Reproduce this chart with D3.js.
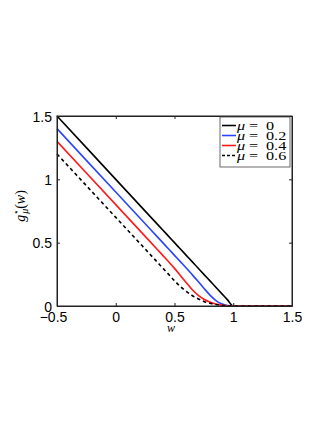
<!DOCTYPE html>
<html>
<head>
<meta charset="utf-8">
<script src="https://cdn.jsdelivr.net/npm/d3@7"></script>
<style>
  body { margin: 0; background: #fff; }
  svg { display: block; }
  .tick text { font-family: "Liberation Sans", Arial, sans-serif; font-size: 14px; fill: #000; }
  .math { font-family: "Liberation Serif", "DejaVu Serif", serif; fill: #000; }
</style>
</head>
<body>
<svg id="chart" width="332" height="430"></svg>
<script>
// w grid and the four curves g*_mu(w)
const wVals  = [-0.5, 0, 0.3, 0.4, 0.45, 0.5, 0.55, 0.6, 0.65, 0.7, 0.75, 0.8, 0.85, 0.9, 0.95, 1, 1.5];
const mu0    = [1.5, 1, 0.7, 0.6, 0.55, 0.5, 0.45, 0.4, 0.35, 0.3, 0.25, 0.2, 0.15, 0.1, 0.05, 0, 0];
const mu02   = [1.4, 0.9, 0.6, 0.5, 0.45, 0.4, 0.35, 0.3, 0.248, 0.195, 0.14, 0.088, 0.045, 0.017, 0.003, 0, 0];
const mu04   = [1.3, 0.8, 0.5, 0.4, 0.35, 0.297, 0.241, 0.184, 0.13, 0.085, 0.053, 0.031, 0.016, 0.007, 0.002, 0, 0];
const mu06   = [1.2, 0.7, 0.4, 0.3, 0.25, 0.2, 0.153, 0.115, 0.083, 0.057, 0.036, 0.022, 0.012, 0.005, 0.001, 0, 0];
const seriesLabels = ['0', '0.2', '0.4', '0.6'];
const xTicks = [-0.5, 0, 0.5, 1, 1.5];
const yTicks = [0, 0.5, 1, 1.5];

const plotL = 57, plotR = 292, plotT = 116, plotB = 306;

const svg = d3.select('#chart');

const x = d3.scaleLinear().domain([-0.5, 1.5]).range([plotL, plotR]);
const y = d3.scaleLinear().domain([0, 1.5]).range([plotB, plotT]);

const series = [
  { label: seriesLabels[0], values: mu0,  color: '#000000', dash: null },
  { label: seriesLabels[1], values: mu02, color: '#2b45ff', dash: null },
  { label: seriesLabels[2], values: mu04, color: '#ff1a1a', dash: null },
  { label: seriesLabels[3], values: mu06, color: '#000000', dash: '3.5,3' }
];

// plot background
svg.append('rect')
    .attr('x', plotL).attr('y', plotT)
    .attr('width', plotR - plotL).attr('height', plotB - plotT)
    .attr('fill', '#fff');

const line = d3.line()
    .x(d => x(d[0]))
    .y(d => y(d[1]))
    .curve(d3.curveMonotoneX);

svg.selectAll('path.curve')
    .data(series)
    .enter().append('path')
    .attr('class', 'curve')
    .attr('fill', 'none')
    .attr('stroke', d => d.color)
    .attr('stroke-width', 1.6)
    .attr('stroke-dasharray', d => d.dash)
    .attr('d', d => line(wVals.map((w, i) => [w, d.values[i]])));

// axes (box style, ticks inside)
const xAxis = d3.axisBottom(x).tickValues(xTicks).tickSizeInner(-3).tickSizeOuter(0).tickPadding(4)
    .tickFormat(d => d < 0 ? '\u2212' + Math.abs(d) : d);
const yAxis = d3.axisLeft(y).tickValues(yTicks).tickSizeInner(-3).tickSizeOuter(0).tickPadding(5)
    .tickFormat(d => d);

const gx = svg.append('g').attr('transform', `translate(0,${plotB})`).call(xAxis);
gx.selectAll('.tick text').attr('dx', d => d < 0 ? -4 : 0).attr('dy', '0.84em');
const gy = svg.append('g').attr('transform', `translate(${plotL},0)`).call(yAxis);
gy.selectAll('.tick text').attr('dy', '0.36em');

svg.append('g').attr('transform', `translate(0,${plotT})`)
    .call(d3.axisTop(x).tickValues(xTicks).tickSizeInner(-3).tickSizeOuter(0).tickFormat(''));
svg.append('g').attr('transform', `translate(${plotR},0)`)
    .call(d3.axisRight(y).tickValues(yTicks).tickSizeInner(-3).tickSizeOuter(0).tickFormat(''));

svg.selectAll('.domain, .tick line').attr('stroke', '#222');

svg.append('rect')
    .attr('x', plotL).attr('y', plotT)
    .attr('width', plotR - plotL).attr('height', plotB - plotT)
    .attr('fill', 'none').attr('stroke', '#222').attr('stroke-width', 1);

// x label
svg.append('text')
    .attr('class', 'math')
    .attr('x', 171).attr('y', 332)
    .attr('text-anchor', 'middle')
    .attr('font-size', 12)
    .attr('font-style', 'italic')
    .text('w');

// y label g*_mu(w)
const yl = svg.append('text')
    .attr('class', 'math')
    .attr('transform', 'translate(25,206) rotate(-90)')
    .attr('text-anchor', 'middle')
    .attr('font-size', 14);
yl.append('tspan').attr('font-style', 'italic').text('g');
yl.append('tspan').attr('font-size', 9).attr('dy', -6).text('\u22c6');
yl.append('tspan').attr('font-size', 10).attr('font-style', 'italic').attr('dx', -5).attr('dy', 9).text('\u03bc');
yl.append('tspan').attr('dy', -3).text('(');
yl.append('tspan').attr('font-style', 'italic').text('w');
yl.append('tspan').text(')');

// legend
const lgX = 220, lgY = 117, lgW = 70, lgH = 50, rowH = 10;
svg.append('rect')
    .attr('x', lgX).attr('y', lgY)
    .attr('width', lgW).attr('height', lgH)
    .attr('fill', '#fff').attr('stroke', '#444').attr('stroke-width', 0.8);

const item = svg.selectAll('g.legend')
    .data(series)
    .enter().append('g')
    .attr('class', 'legend')
    .attr('transform', (d, i) => `translate(${lgX},${lgY + 8.5 + i * rowH})`);

item.append('line')
    .attr('x1', 2).attr('x2', 16)
    .attr('stroke', d => d.color)
    .attr('stroke-width', 1.6)
    .attr('stroke-dasharray', d => d.dash ? '3,2' : null);

const lt = item.append('text')
    .attr('class', 'math')
    .attr('transform', 'translate(17,4) scale(1.35,1)')
    .attr('font-size', 12);
lt.append('tspan').attr('x', 0).attr('font-style', 'italic').text('\u03bc');
lt.append('tspan').attr('x', 8.8).text('=');
lt.append('tspan').attr('x', 21.5).text(d => d.label);
</script>
</body>
</html>
